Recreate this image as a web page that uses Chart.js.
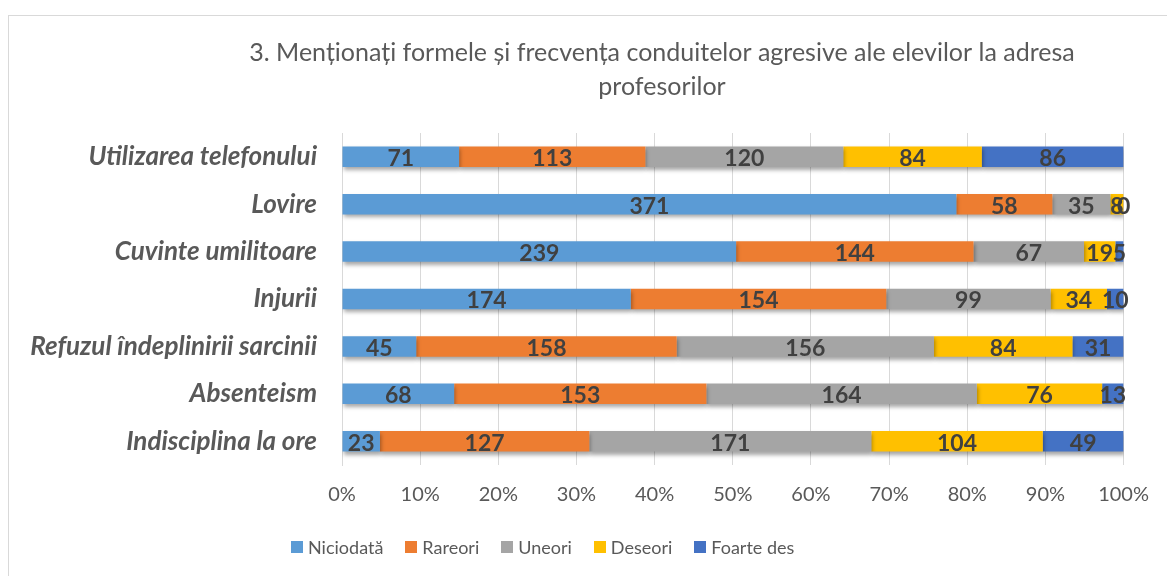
<!DOCTYPE html>
<html>
<head>
<meta charset="utf-8">
<script src="https://cdn.jsdelivr.net/npm/chart.js@4/dist/chart.umd.min.js"></script>
<style>
  html, body { margin: 0; padding: 0; background: #fff; }
  #wrap { position: relative; width: 1167px; height: 576px; overflow: hidden; }
  #frame { position: absolute; left: 8px; top: 15px; width: 1300px; height: 700px; border: 1px solid #d9d9d9; box-sizing: border-box; }
  canvas { position: absolute; left: 0; top: 0; }
  #legenda { position: absolute; left: 291px; top: 535px; height: 24px; display: flex; align-items: center;
             font-family: Lato, "Noto Sans", sans-serif; font-size: 18px; color: #595959; }
  #legenda .item { display: flex; align-items: center; margin-right: 22px; }
  #legenda .box { width: 12px; height: 12px; margin-right: 5px; }
</style>
</head>
<body>
<div id="wrap">
  <div id="frame"></div>
  <canvas id="chart" width="1167" height="576"></canvas>
  <div id="legenda"></div>
</div>
<script>
// categorii (de sus in jos)
const categorii = [
    'Utilizarea telefonului',
    'Lovire',
    'Cuvinte umilitoare',
    'Injurii',
    'Refuzul îndeplinirii sarcinii',
    'Absenteism',
    'Indisciplina la ore'
];

const niciodata = [71, 371, 239, 174, 45, 68, 23];
const rareori   = [113, 58, 144, 154, 158, 153, 127];
const uneori    = [120, 35, 67, 99, 156, 164, 171];
const deseori   = [84, 8, 19, 34, 84, 76, 104];
const foarteDes = [86, 0, 5, 10, 31, 13, 49];

const titluRanduri = ['3. Menționați formele și frecvența conduitelor agresive ale elevilor la adresa', 'profesorilor'];

const serii = [
    { nume: 'Niciodată', valori: niciodata, culoare: '#5B9BD5' },
    { nume: 'Rareori', valori: rareori, culoare: '#ED7D31' },
    { nume: 'Uneori', valori: uneori, culoare: '#A5A5A5' },
    { nume: 'Deseori', valori: deseori, culoare: '#FFC000' },
    { nume: 'Foarte des', valori: foarteDes, culoare: '#4472C4' }
];

// totaluri pe categorie, pentru 100%
const totaluri = categorii.map((_, i) => serii.reduce((acc, s) => acc + s.valori[i], 0));

const FONT = 'Lato, "Noto Sans", sans-serif';

// legenda in HTML, ca sa stea unde e in Excel
document.getElementById('legenda').innerHTML = serii.map(s =>
    `<div class="item"><div class="box" style="background:${s.culoare}"></div>${s.nume}</div>`
).join('');

// titlul, centrat ca in Excel (nu pe mijlocul canvasului)
const titluPlugin = {
    id: 'titluPlugin',
    afterDraw(chart) {
        const ctx = chart.ctx;
        ctx.save();
        ctx.font = '25px ' + FONT;
        ctx.fillStyle = '#595959';
        ctx.textAlign = 'center';
        ctx.textBaseline = 'middle';
        ctx.fillText(titluRanduri[0], 662, 53);
        ctx.fillText(titluRanduri[1], 662, 87);
        ctx.restore();
    }
};

// umbra usoara sub bare
const umbraPlugin = {
    id: 'umbraPlugin',
    beforeDatasetsDraw(chart) {
        const ctx = chart.ctx;
        ctx.save();
        ctx.shadowColor = 'rgba(0,0,0,0.35)';
        ctx.shadowBlur = 4;
        ctx.shadowOffsetX = 1;
        ctx.shadowOffsetY = 3;
    },
    afterDatasetsDraw(chart) {
        chart.ctx.restore();
    }
};

// etichete cu valorile brute in mijlocul segmentelor
const etichetePlugin = {
    id: 'etichetePlugin',
    afterDatasetsDraw(chart) {
        const ctx = chart.ctx;
        ctx.save();
        ctx.font = 'bold 23px ' + FONT;
        ctx.fillStyle = '#404040';
        ctx.textAlign = 'center';
        ctx.textBaseline = 'middle';
        chart.data.datasets.forEach((ds, di) => {
            const meta = chart.getDatasetMeta(di);
            meta.data.forEach((bar, i) => {
                const x = (bar.x + bar.base) / 2;
                ctx.fillText(String(ds.raw[i]), x, bar.y + 2);
            });
        });
        ctx.restore();
    }
};

const ctx = document.getElementById('chart');
new Chart(ctx, {
    type: 'bar',
    data: {
        labels: categorii,
        datasets: serii.map(s => ({
            label: s.nume,
            raw: s.valori,
            data: s.valori.map((v, i) => v / totaluri[i] * 100),
            backgroundColor: s.culoare,
            borderWidth: 0,
            barPercentage: 0.9,
            categoryPercentage: 0.48
        }))
    },
    options: {
        indexAxis: 'y',
        responsive: false,
        animation: false,
        layout: { padding: { top: 133, right: 42, left: 0, bottom: 51 } },
        plugins: {
            title: { display: false },
            tooltip: { enabled: false },
            legend: { display: false }
        },
        scales: {
            x: {
                stacked: true,
                min: 0, max: 100,
                ticks: {
                    stepSize: 10,
                    padding: 18,
                    color: '#595959',
                    font: { family: FONT, size: 20 },
                    callback: v => v + '%'
                },
                grid: { color: '#d9d9d9', drawTicks: false },
                border: { display: false }
            },
            y: {
                stacked: true,
                afterFit(scale) { scale.width = 342; },
                ticks: {
                    padding: 25,
                    color: '#595959',
                    font: { family: FONT, size: 26, style: 'italic', weight: 'bold' }
                },
                grid: { display: false, drawTicks: false },
                border: { display: true, color: '#d9d9d9' }
            }
        }
    },
    plugins: [titluPlugin, umbraPlugin, etichetePlugin]
});
</script>
</body>
</html>
